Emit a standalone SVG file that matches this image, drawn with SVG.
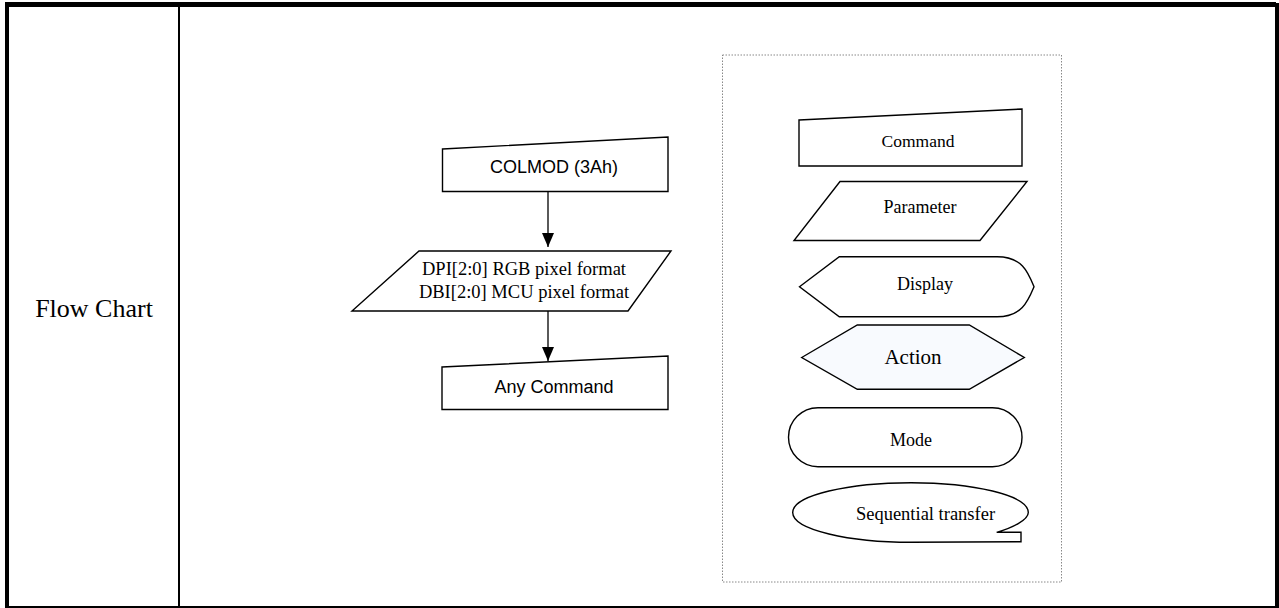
<svg xmlns="http://www.w3.org/2000/svg" width="1279" height="608" viewBox="0 0 1279 608">
<style>
.sh{fill:#fff;stroke:#000;stroke-width:1.4;stroke-linejoin:miter}
.tm{font-family:"Liberation Serif","Times New Roman",serif;fill:#000;text-anchor:middle}
.ar{font-family:"Liberation Sans",Arial,sans-serif;fill:#000;text-anchor:middle}
.cn{stroke:#000;stroke-width:1.3;fill:none}
</style>
<defs>
<marker id="ad" markerWidth="15" markerHeight="12" refX="14" refY="6" orient="auto" markerUnits="userSpaceOnUse" viewBox="0 0 15 12">
<path d="M0,0 L14,6 L0,12 Z" fill="#000"/>
</marker>
</defs>
<g id="table">
<rect x="5" y="2" width="1271" height="5" fill="#000"/>
<rect x="5" y="2" width="4" height="606" fill="#000"/>
<rect x="1275" y="3" width="4" height="605" fill="#000"/>
<rect x="5" y="606" width="1274" height="2" fill="#000"/>
<rect x="178" y="5" width="2" height="603" fill="#000"/>
<text class="tm" x="94" y="317" font-size="26">Flow Chart</text>
</g>
<g id="connectors">
<line class="cn" x1="548" y1="192" x2="548" y2="247" marker-end="url(#ad)"/>
<line class="cn" x1="548" y1="311" x2="548" y2="361" marker-end="url(#ad)"/>
</g>
<g id="colmod">
<polygon class="sh" points="442.5,149 668,137 668,191.5 442.5,191.5"/>
<text class="ar" x="554" y="173" font-size="18">COLMOD (3Ah)</text>
</g>
<g id="dpi">
<polygon class="sh" points="419,251 671,251 628,311 352,311"/>
<text class="tm" x="524" y="275" font-size="18.5">DPI[2:0] RGB pixel format</text>
<text class="tm" x="524" y="298" font-size="18.5">DBI[2:0] MCU pixel format</text>
</g>
<g id="anycommand">
<polygon class="sh" points="442,367 668,356 668,409.5 442,409.5"/>
<text class="ar" x="554" y="393" font-size="18">Any Command</text>
</g>
<g id="legend">
<rect x="722.5" y="55" width="339" height="527" fill="none" stroke="#888" stroke-width="1" stroke-dasharray="1.5,1.5"/>
</g>
<g id="lg-command">
<polygon class="sh" points="799,120 1022,109 1022,166 799,166"/>
<text class="tm" x="918" y="147" font-size="17.5">Command</text>
</g>
<g id="lg-parameter">
<polygon class="sh" points="840,181.5 1027,181.5 980,240.5 794,240.5"/>
<text class="tm" x="920" y="213" font-size="18">Parameter</text>
</g>
<g id="lg-display">
<path class="sh" d="M799.5,286.7 L839.3,256.7 L997,256.7 C1022,256.7 1028,272 1034,286.7 C1028,301 1022,316.7 997,316.7 L839.3,316.7 Z"/>
<text class="tm" x="925" y="290" font-size="18">Display</text>
</g>
<g id="lg-action">
<polygon points="801.7,357.5 857.3,325 969.3,325 1024.3,357.5 969.3,389.3 857.3,389.3" fill="#f8fafe" stroke="#000" stroke-width="1.4"/>
<text class="tm" x="913" y="364" font-size="21">Action</text>
</g>
<g id="lg-mode">
<rect class="sh" x="788.5" y="407.7" width="233.5" height="59" rx="29.5" ry="29.5"/>
<text class="tm" x="911" y="446" font-size="18">Mode</text>
</g>
<g id="lg-seq">
<path class="sh" d="M996.7,532.3 L1021,532.3 L1021,541.8 L911,542.3 C850,542.3 792.7,530 792.7,512.5 C792.7,495 850,482.7 911,482.7 C972,482.7 1028.3,495 1028.3,512.5 C1028.3,520 1012,528 996.7,532.3 Z"/>
<text class="tm" x="925.5" y="520" font-size="18.5">Sequential transfer</text>
</g>
</svg>
